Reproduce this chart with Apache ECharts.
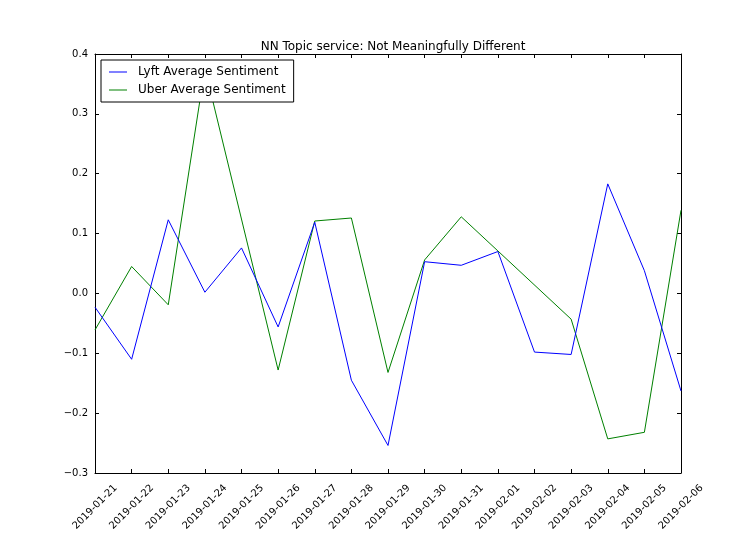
<!DOCTYPE html>
<html>
<head>
<meta charset="utf-8">
<script src="https://cdn.jsdelivr.net/npm/echarts@6/dist/echarts.min.js"></script>
<style>
  html, body { margin: 0; padding: 0; background: #fff; }
  #chart { width: 756px; height: 540px; }
</style>
</head>
<body>
<div id="chart"></div>
<script>
  var dates = ['2019-01-21', '2019-01-22', '2019-01-23', '2019-01-24', '2019-01-25', '2019-01-26',
    '2019-01-27', '2019-01-28', '2019-01-29', '2019-01-30', '2019-01-31', '2019-02-01',
    '2019-02-02', '2019-02-03', '2019-02-04', '2019-02-05', '2019-02-06'];
  var lyft = [-0.023, -0.110, 0.123, 0.002, 0.076, -0.056, 0.119, -0.145, -0.254,
    0.053, 0.047, 0.070, -0.098, -0.102, 0.183, 0.038, -0.163];
  // uber has no value on 01-25 and 02-02, line just runs across
  var uber = [-0.061, 0.045, -0.019, 0.376, null, -0.128, 0.121, 0.126, -0.132,
    0.056, 0.128, 0.071, null, -0.043, -0.243, -0.232, 0.139];
  var yTicks = { min: -0.3, max: 0.4, step: 0.1 };

  var font = 'DejaVu Sans';
  var chart = echarts.init(document.getElementById('chart'));

  function fmtY(v) {
    var s = v.toFixed(1);
    if (s === '-0.0') s = '0.0';
    return s.replace('-', '\u2212');
  }

  var tickIn = { show: true, inside: true, length: 4, lineStyle: { color: '#000', width: 1 } };
  var frame = { show: true, onZero: false, lineStyle: { color: '#000', width: 1 } };

  var option = {
    animation: false,
    backgroundColor: '#fff',
    title: {
      text: 'NN Topic service: Not Meaningfully Different',
      left: 388, top: 36, textAlign: 'center',
      textStyle: { fontFamily: font, fontSize: 12, fontWeight: 'normal', color: '#000' }
    },
    legend: {
      orient: 'vertical',
      left: 101, top: 60,
      padding: [6, 8, 6, 8],
      itemGap: 6,
      itemWidth: 18,
      itemHeight: 1,
      icon: 'rect',
      borderColor: '#000',
      borderWidth: 1,
      backgroundColor: '#fff',
      textStyle: { fontFamily: font, fontSize: 12, color: '#000', padding: [0, 0, 0, 6], lineHeight: 12 },
      data: ['Lyft Average Sentiment', 'Uber Average Sentiment']
    },
    grid: { left: 95, right: 75, top: 54, bottom: 67, containLabel: false },
    xAxis: [{
      type: 'category',
      data: dates,
      boundaryGap: false,
      axisLine: frame,
      axisTick: Object.assign({ alignWithLabel: true, interval: 0 }, tickIn),
      axisLabel: {
        interval: 0, rotate: 45, margin: 34,
        align: 'center', verticalAlign: 'middle',
        fontFamily: font, fontSize: 10, color: '#000'
      },
      splitLine: { show: false }
    }, {
      type: 'category',
      data: dates,
      position: 'top',
      boundaryGap: false,
      axisLine: frame,
      axisTick: Object.assign({ interval: 0 }, tickIn),
      axisLabel: { show: false },
      splitLine: { show: false }
    }],
    yAxis: [{
      type: 'value',
      min: yTicks.min, max: yTicks.max, interval: yTicks.step,
      axisLine: frame,
      axisTick: tickIn,
      axisLabel: { formatter: fmtY, margin: 7, fontFamily: font, fontSize: 10, color: '#000' },
      splitLine: { show: false }
    }, {
      type: 'value',
      position: 'right',
      min: yTicks.min, max: yTicks.max, interval: yTicks.step,
      axisLine: frame,
      axisTick: tickIn,
      axisLabel: { show: false },
      splitLine: { show: false }
    }],
    series: [{
      name: 'Lyft Average Sentiment',
      type: 'line',
      data: lyft,
      symbol: 'none',
      lineStyle: { color: '#0000ff', width: 1 },
      itemStyle: { color: '#0000ff' },
      z: 3
    }, {
      name: 'Uber Average Sentiment',
      type: 'line',
      data: uber,
      connectNulls: true,
      symbol: 'none',
      lineStyle: { color: '#008000', width: 1 },
      itemStyle: { color: '#008000' },
      z: 2
    }]
  };

  chart.setOption(option);
</script>
</body>
</html>
